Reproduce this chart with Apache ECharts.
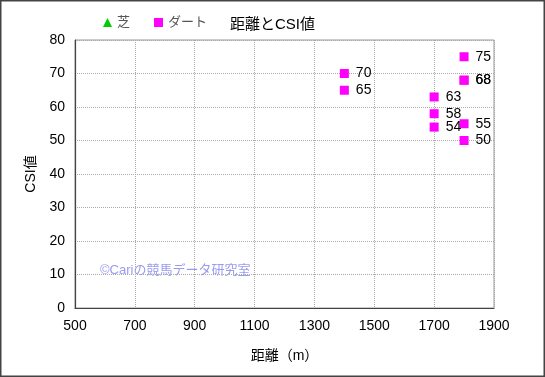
<!DOCTYPE html>
<html><head><meta charset="utf-8">
<script src="https://cdn.jsdelivr.net/npm/echarts@6/dist/echarts.min.js"></script>
<style>html,body{margin:0;padding:0;background:#fff}#c{width:545px;height:377px}</style>
</head><body><div id="c"></div>
<script>
const titleText = '距離とCSI値';
const turfName = '芝';
const dirtName = 'ダート';
const turfData = [];
const dirtDistance = [1400, 1400, 1700, 1700, 1700, 1800, 1800, 1800, 1800, 1800];
const dirtCSI = [70, 65, 63, 58, 54, 75, 68, 68, 55, 50];
const xTicks = {min: 500, max: 1900, interval: 200};
const yTicks = {min: 0, max: 80, interval: 10};
const watermark = '©Cariの競馬データ研究室';

const font = '"Liberation Sans","Noto Sans CJK JP",sans-serif';
const chart = echarts.init(document.getElementById('c'), null, {renderer: 'canvas'});
chart.setOption({
  animation: false,
  backgroundColor: '#fff',
  textStyle: {fontFamily: font},
  title: {text: titleText, left: 'center', top: 12, textStyle: {fontSize: 15, fontWeight: 'normal', color: '#000', fontFamily: font}},
  legend: {
    left: 98, top: 11, itemWidth: 9, itemHeight: 9, itemGap: 24, itemStyle: {borderWidth: 0},
    textStyle: {fontSize: 13, color: '#555', fontFamily: font},
    data: [{name: turfName, icon: 'triangle'}, {name: dirtName, icon: 'rect'}]
  },
  grid: {left: 75, right: 51, top: 40, bottom: 69, show: true, borderColor: '#999', borderWidth: 1, backgroundColor: '#fff'},
  xAxis: {
    type: 'value', min: xTicks.min, max: xTicks.max, interval: xTicks.interval,
    name: '距離（m）', nameLocation: 'middle', nameGap: 41,
    nameTextStyle: {fontSize: 14, color: '#000', fontFamily: font},
    axisLine: {show: true, lineStyle: {color: '#444', width: 1.2}},
    axisTick: {show: false},
    axisLabel: {fontSize: 14, color: '#000', margin: 11, formatter: v => String(v)},
    splitLine: {show: true, lineStyle: {color: '#aaa', type: 'dotted'}}
  },
  yAxis: {
    type: 'value', min: yTicks.min, max: yTicks.max, interval: yTicks.interval,
    name: 'CSI値', nameLocation: 'middle', nameGap: 36, nameRotate: 90,
    nameTextStyle: {fontSize: 14, color: '#000', fontFamily: font},
    axisLine: {show: true, lineStyle: {color: '#444', width: 1.2}},
    axisTick: {show: false},
    axisLabel: {fontSize: 14, color: '#000', margin: 10, formatter: v => String(v)},
    splitLine: {show: true, lineStyle: {color: '#aaa', type: 'dotted'}}
  },
  series: [
    {name: turfName, type: 'scatter', symbol: 'triangle', symbolSize: 9,
     itemStyle: {color: '#00cc00', borderColor: '#006600', borderWidth: 0.5, opacity: 1}, data: turfData},
    {name: dirtName, type: 'scatter', symbol: 'rect', symbolSize: 9,
     itemStyle: {color: '#ff00ff', opacity: 1},
     label: {show: true, position: 'right', distance: 7, fontSize: 14, color: '#000', fontFamily: font,
             formatter: p => p.value[1]},
     data: dirtDistance.map((d, i) => [d, dirtCSI[i]])}
  ],
  graphic: [
    {type: 'rect', shape: {x: 0.75, y: 0.75, width: 543.5, height: 375.5}, style: {fill: 'none', stroke: '#444', lineWidth: 1.5}, silent: true},
    {type: 'text', left: 100, top: 264, style: {text: watermark, fill: '#9a9af0', fontSize: 13, fontFamily: font}, silent: true}
  ]
});
</script></body></html>
